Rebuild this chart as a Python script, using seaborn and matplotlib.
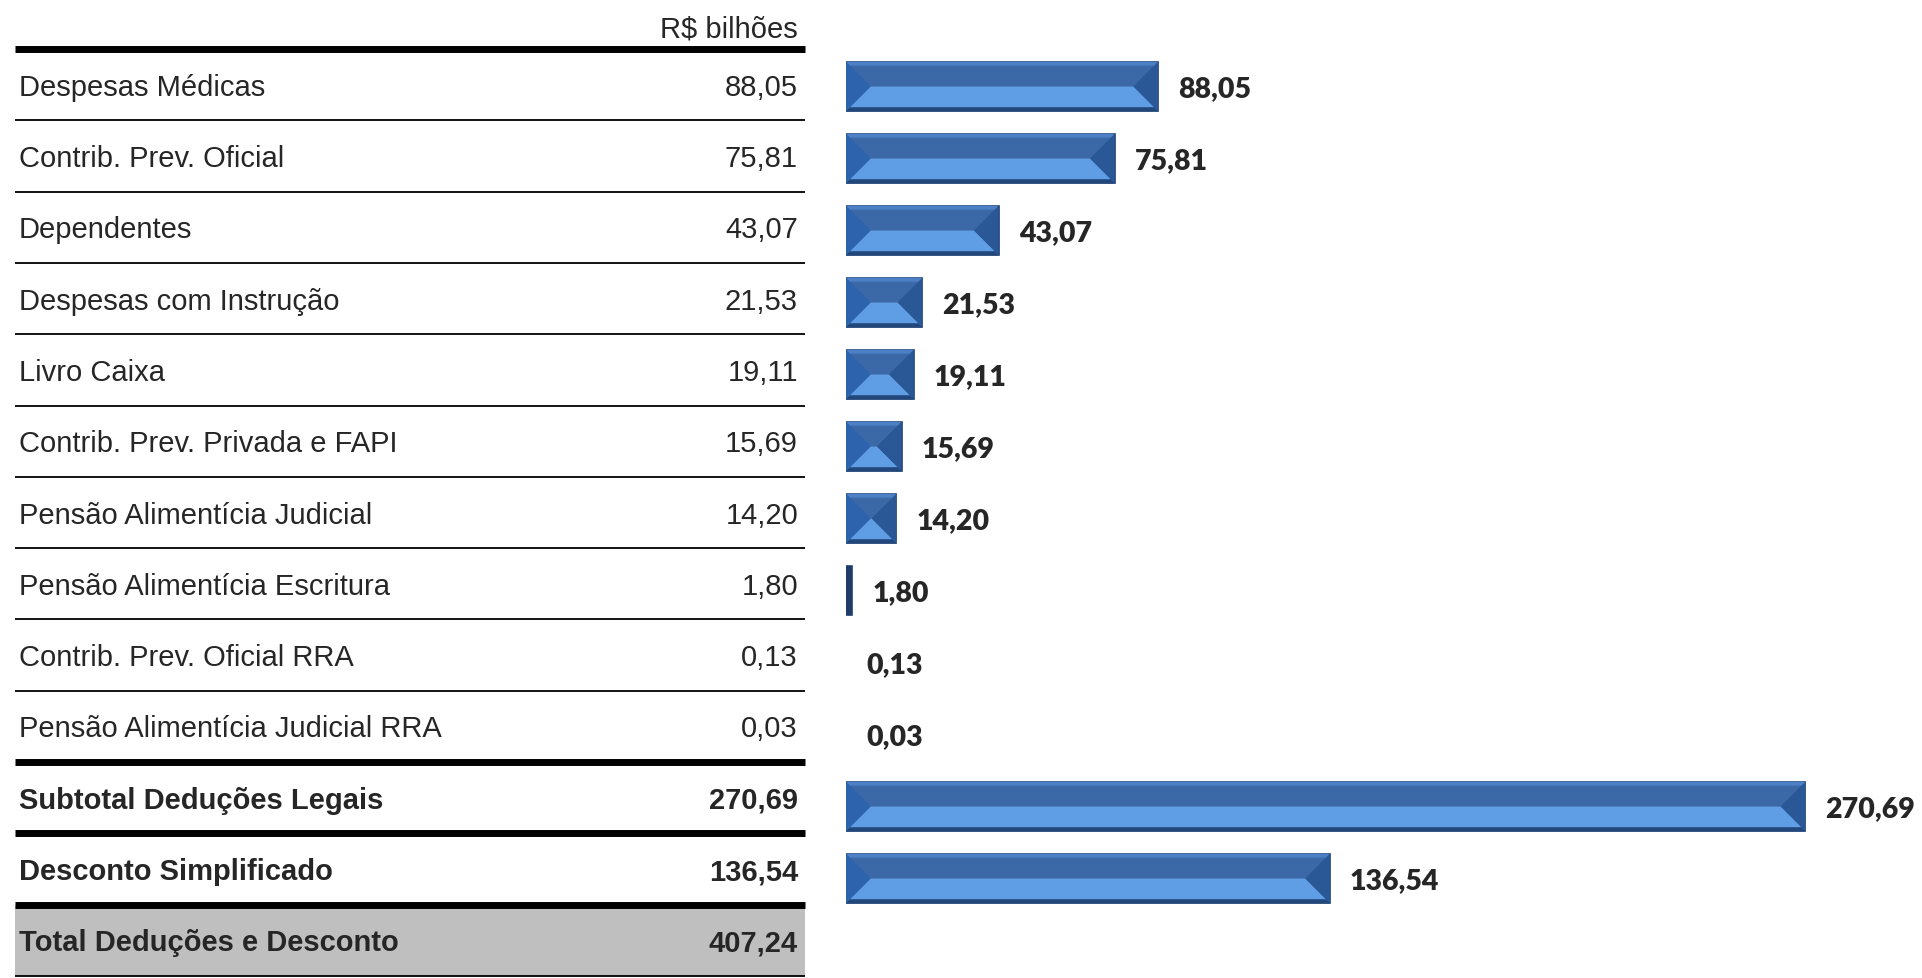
import matplotlib
matplotlib.use("Agg")
import matplotlib.pyplot as plt
import seaborn as sns
import pandas as pd
from matplotlib.patches import Polygon

itens = [
    "Despesas Médicas",
    "Contrib. Prev. Oficial",
    "Dependentes",
    "Despesas com Instrução",
    "Livro Caixa",
    "Contrib. Prev. Privada e FAPI",
    "Pensão Alimentícia Judicial",
    "Pensão Alimentícia Escritura",
    "Contrib. Prev. Oficial RRA",
    "Pensão Alimentícia Judicial RRA",
    "Subtotal Deduções Legais",
    "Desconto Simplificado",
    "Total Deduções e Desconto",
]
valores = [88.05, 75.81, 43.07, 21.53, 19.11, 15.69, 14.20, 1.80, 0.13, 0.03,
           270.69, 136.54, 407.24]
linhas_negrito = [10, 11, 12]
unidade = "R$ bilhões"

def fmt(v):
    return f"{v:.2f}".replace(".", ",")

sns.set_theme(style="white")
plt.rcParams["font.family"] = ["Liberation Sans", "DejaVu Sans"]

W, H = 1922, 979
fig = plt.figure(figsize=(W / 100, H / 100), dpi=100)
n = len(itens)

# tabela: linhas de 50 px a 977 px
t_topo, t_base = 50, 977
ax_tab = fig.add_axes([15 / W, (H - t_base) / H, 790 / W, (t_base - t_topo) / H])
# barras: passo um pouco maior que o da tabela
b_topo, b_base = 51.5, 987.5
ax_bar = fig.add_axes([846 / W, (H - b_base) / H, 1076 / W, (b_base - b_topo) / H])

px_x = 3.544                          # pixels por R$ bi
py_tab = (t_base - t_topo) / n
py_bar = (b_base - b_topo) / n

# ---- tabela ----
ax_tab.set_xlim(0, 1)
ax_tab.set_ylim(n - 0.5, -0.5)
ax_tab.axis("off")
ax_tab.axhspan(n - 1.5, n - 0.5, color="#bfbfbf", zorder=0)
for i, (nome, v) in enumerate(zip(itens, valores)):
    peso = "bold" if i in linhas_negrito else "normal"
    yb = i + 10 / py_tab
    ax_tab.text(4 / 790, yb, nome, fontsize=21, fontweight=peso, va="baseline", ha="left")
    ax_tab.text(1 - 7 / 790, yb, fmt(v), fontsize=21, fontweight=peso, va="baseline", ha="right")
for b in range(n + 1):
    y = b - 0.5
    grossa = b in (0, 10, 11, 12)
    ax_tab.plot([0, 1], [y, y], color="black", lw=5 if grossa else 1.3,
                solid_capstyle="butt", clip_on=False)
ax_tab.text(1 - 7 / 790, -0.5 - 13 / py_tab, unidade, fontsize=21, va="baseline", ha="right")

# ---- barras ----
df = pd.DataFrame({"item": itens[:-1], "valor": valores[:-1]})
sns.barplot(data=df, x="valor", y="item", orient="h", ax=ax_bar, color="#3b68a7",
            width=0.69, edgecolor="#1d3f70", linewidth=1.2, saturation=1)
ax_bar.set_xlim(0, 1076 / px_x)
ax_bar.set_ylim(n - 0.5, -0.5)
ax_bar.axis("off")

for p, v in zip(ax_bar.patches, valores[:-1]):
    x0, w, y0, h = p.get_x(), p.get_width(), p.get_y(), p.get_height()
    if w * px_x < 3:
        p.set_linewidth(0)
        p.set_alpha(0.15)
    elif w * px_x < 10:
        p.set_facecolor("#1f3b66")
    else:
        ex, ey = 4 / px_x, 4 / py_bar
        bot, mid = y0 + h - ey, y0 + h / 2
        s = (h / 2 - ey) * py_bar / px_x
        xl, xr = x0 + ex, x0 + w - ex
        # lados
        ax_bar.add_patch(Polygon([(x0, y0), (xl + s, mid), (x0, y0 + h)], closed=True,
                                 color="#2d62ad", zorder=3, lw=0))
        ax_bar.add_patch(Polygon([(x0 + w, y0), (xr - s, mid), (x0 + w, y0 + h)], closed=True,
                                 color="#2a5796", zorder=3, lw=0))
        # faixa superior
        ax_bar.add_patch(Polygon([(x0, y0), (x0 + w, y0), (xr, y0 + ey), (xl, y0 + ey)],
                                 closed=True, color="#4c7fc3", zorder=3, lw=0))
        # reflexo inferior
        if xl + s < xr - s:
            pts = [(xl, bot), (xr, bot), (xr - s, mid), (xl + s, mid)]
        else:
            xc = x0 + w / 2
            pts = [(xl, bot), (xr, bot), (xc, bot - (xc - xl) * px_x / py_bar)]
        ax_bar.add_patch(Polygon(pts, closed=True, color="#5f9de4", zorder=3, lw=0))
        ax_bar.add_patch(Polygon([(x0, y0 + h), (x0 + w, y0 + h), (xr, bot), (xl, bot)],
                                 closed=True, color="#22477c", zorder=3, lw=0))
    ax_bar.text(v + 20 / px_x, y0 + h / 2 + 10 / py_bar, fmt(v), fontsize=20.5,
                fontweight="heavy", family=["Lato", "DejaVu Sans"], va="baseline", ha="left")

fig.savefig("out.png", dpi=100)
